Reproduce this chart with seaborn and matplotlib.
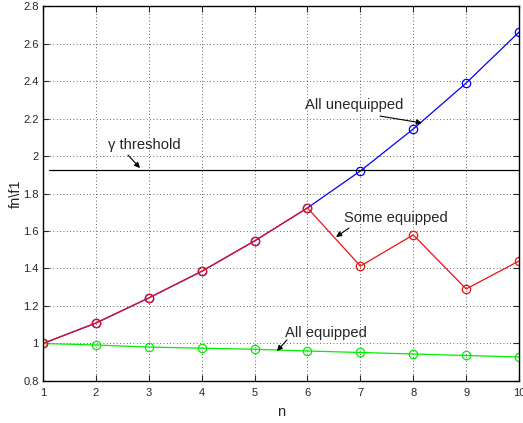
import numpy as np
import pandas as pd
import matplotlib
matplotlib.use("Agg")
import matplotlib.pyplot as plt
import seaborn as sns

# Normalised frequency ratio fn/f1 against n
n = [1, 2, 3, 4, 5, 6, 7, 8, 9, 10]
all_unequipped = [1.0, 1.109, 1.243, 1.385, 1.547, 1.723, 1.920, 2.144, 2.389, 2.661]
some_equipped = [1.0, 1.109, 1.243, 1.385, 1.547, 1.723, 1.413, 1.579, 1.291, 1.440]
all_equipped = [1.0, 0.992, 0.981, 0.975, 0.969, 0.960, 0.952, 0.944, 0.936, 0.928]
gamma_threshold = 1.925
threshold_span = [1.12, 10]

x_ticks = list(range(1, 11))
y_ticks = [0.8, 1.0, 1.2, 1.4, 1.6, 1.8, 2.0, 2.2, 2.4, 2.6, 2.8]
y_tick_labels = ["0.8", "1", "1.2", "1.4", "1.6", "1.8", "2", "2.2", "2.4", "2.6", "2.8"]

sns.set_style("white")
plt.rcParams["font.family"] = ["Liberation Sans", "DejaVu Sans"]

fig = plt.figure(figsize=(5.23, 4.23), dpi=100)
ax = fig.add_axes([0.0822, 0.0993, 0.9102, 0.8865])

df = pd.DataFrame({"n": n, "unequipped": all_unequipped,
                   "some": some_equipped, "equipped": all_equipped})

common = dict(marker="o", markersize=6, markerfacecolor="none",
              linewidth=0.9, markeredgewidth=0.9, ax=ax)
sns.lineplot(data=df, x="n", y="unequipped", color="#0000ff",
             markeredgecolor="#0000ff", **common)
sns.lineplot(data=df, x="n", y="equipped", color="#00ee00",
             markeredgecolor="#00ee00", **common)
sns.lineplot(data=df, x="n", y="some", color="#ee1111",
             markeredgecolor="#ee1111", **common)

ax.plot(threshold_span, [gamma_threshold, gamma_threshold], color="black", lw=0.9)

ax.set_xlim(1, 10)
ax.set_ylim(0.8, 2.8)
ax.set_xticks(x_ticks)
ax.set_yticks(y_ticks)
ax.set_yticklabels(y_tick_labels)
ax.tick_params(direction="in", length=4, width=0.8, labelsize=8,
               top=True, right=True, bottom=True, left=True)
ax.tick_params(axis="x", pad=5)
ax.tick_params(axis="y", pad=3)
ax.grid(True, color="black", linestyle=(0, (1, 3)), linewidth=0.6, alpha=0.8)
for s in ax.spines.values():
    s.set_color("black")
    s.set_linewidth(1.0)

ax.set_xlabel("n", fontsize=10.5, labelpad=5)
ax.set_ylabel("fn\\f1", fontsize=10.5, labelpad=0)

arrow = dict(arrowstyle="-|>", color="black", lw=0.8, mutation_scale=8,
             shrinkA=0, shrinkB=0)
fs = 10.6
ax.annotate("", xy=(2.834, 1.936), xytext=(2.607, 2.005), arrowprops=arrow)
ax.text(2.229, 2.059, "γ threshold", fontsize=fs, va="center", ha="left")

ax.annotate("", xy=(8.166, 2.176), xytext=(7.372, 2.213), arrowprops=arrow)
ax.text(5.954, 2.272, "All unequipped", fontsize=fs, va="center", ha="left")

ax.annotate("", xy=(6.54, 1.568), xytext=(6.786, 1.616), arrowprops=arrow)
ax.text(6.69, 1.669, "Some equipped", fontsize=fs, va="center", ha="left")

ax.annotate("", xy=(5.424, 0.96), xytext=(5.613, 1.019), arrowprops=arrow)
ax.text(5.575, 1.056, "All equipped", fontsize=fs, va="center", ha="left")

fig.savefig("out.png", dpi=100)
